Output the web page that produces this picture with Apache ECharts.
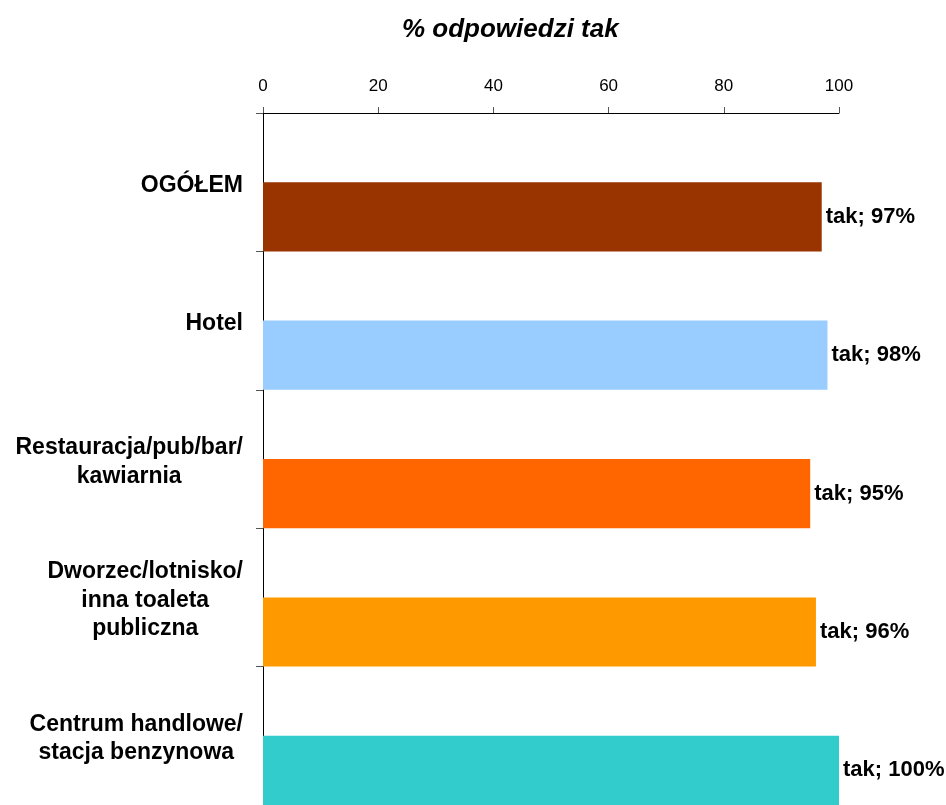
<!DOCTYPE html>
<html>
<head>
<meta charset="utf-8">
<script src="https://cdn.jsdelivr.net/npm/echarts@6/dist/echarts.min.js"></script>
<style>
html,body{margin:0;padding:0;background:#fff;}
#chart{width:946px;height:805px;}
</style>
</head>
<body>
<div id="chart"></div>
<script>
const categories = ['OGÓŁEM', 'Hotel', 'Restauracja/pub/bar/\nkawiarnia', 'Dworzec/lotnisko/\ninna toaleta\npubliczna', 'Centrum handlowe/\nstacja benzynowa'];
const takValues = [97, 98, 95, 96, 100];
const barColors = ['#993300', '#99CCFF', '#FF6600', '#FF9900', '#33CCCC'];
const xTicks = [0, 20, 40, 60, 80, 100];
const seriesName = 'tak';
const titleText = '% odpowiedzi tak';

const chart = echarts.init(document.getElementById('chart'), null, {renderer: 'canvas'});
const font = 'Liberation Sans, Arial, sans-serif';
chart.setOption({
  animation: false,
  backgroundColor: '#ffffff',
  title: {
    text: titleText,
    left: 397, top: 12,
    textStyle: {fontFamily: font, fontSize: 26, fontWeight: 'bold', fontStyle: 'italic', color: '#000'}
  },
  grid: {left: 263, right: 107, top: 113, height: 695, containLabel: false},
  xAxis: {
    type: 'value', position: 'top', min: xTicks[0], max: xTicks[xTicks.length - 1], interval: 20,
    axisLine: {show: true, lineStyle: {color: '#000', width: 1}},
    axisTick: {show: true, length: 6, lineStyle: {color: '#555'}},
    splitLine: {show: false},
    axisLabel: {margin: 18, fontFamily: font, fontSize: 17, color: '#000'}
  },
  yAxis: {
    type: 'category', data: categories, inverse: true,
    axisLine: {show: true, lineStyle: {color: '#000', width: 1}},
    axisTick: {show: true, length: 7, lineStyle: {color: '#555'}},
    axisLabel: {
      margin: 20, align: 'right', padding: [6, 0, 0, 0],
      formatter: v => v.split('\n').map(l => '{c|' + l + '}').join('\n'),
      rich: {c: {align: 'center', fontFamily: font, fontSize: 23, fontWeight: 'bold', color: '#000', lineHeight: 28.5}}
    }
  },
  series: [
    {name: 'pad', type: 'bar', data: [], barGap: 0, barCategoryGap: 0},
    {
      name: seriesName, type: 'bar', barGap: 0, barCategoryGap: 0,
      data: takValues.map((v, i) => ({value: v, itemStyle: {color: barColors[i]}})),
      label: {
        show: true, position: 'right', distance: 4, padding: [4, 0, 0, 0],
        formatter: p => p.seriesName + '; ' + p.value + '%',
        fontFamily: font, fontSize: 22, fontWeight: 'bold', color: '#000'
      }
    }
  ]
});
</script>
</body>
</html>
